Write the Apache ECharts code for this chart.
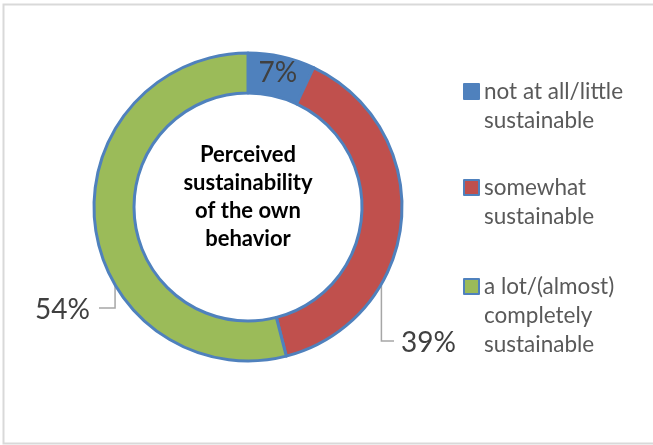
<!DOCTYPE html>
<html>
<head>
<meta charset="utf-8">
<script src="https://cdn.jsdelivr.net/npm/echarts@6/dist/echarts.min.js"></script>
<style>
  html, body { margin: 0; padding: 0; background: #ffffff; }
  #chart { width: 653px; height: 445px; }
</style>
</head>
<body>
<div id="chart"></div>
<script>
// Shares of respondents by how sustainable they rate their own behaviour
const categories = [
  'not at all/little\nsustainable',
  'somewhat\nsustainable',
  'a lot/(almost)\ncompletely\nsustainable'
];
const shares = [7, 39, 54];
const sliceColors = ['#4F81BD', '#C0504D', '#9BBB59'];
const centerTitle = 'Perceived\nsustainability\nof the own\nbehavior';

// Ring geometry (pixels)
const CX = 248, CY = 207, R_IN = 114, R_OUT = 154;
const FONT = 'Lato, "Open Sans", sans-serif';

// Where the outside value labels sit and where their leader lines end
const labelSpots = {
  1: { x: 401, y: 343, align: 'left', lineEnd: 394 },
  2: { x: 90, y: 310, align: 'right', lineEnd: 99 }
};

const pieData = categories.map(function (name, i) {
  const item = { name: name, value: shares[i], itemStyle: { color: sliceColors[i] } };
  if (i === 0) {
    item.label = { position: 'inside' };
    item.labelLine = { show: false };
  }
  return item;
});

// One legend block per category. The marker box is as tall as the text block
// minus the last line, with the visible square drawn at its top, so the square
// sits beside the first text line.
const legendTops = [72, 168, 267];
const LEGEND_LH = 29;
const MARK = 15;
const legends = categories.map(function (name, i) {
  const lines = name.split('\n').length;
  const boxH = MARK + LEGEND_LH * (lines - 1);
  const iconPath = 'path://M0,0H' + MARK + 'V' + MARK + 'H0Z M0,' + boxH + 'L0,' + boxH;
  return {
    data: [{ name: name, icon: iconPath }],
    orient: 'vertical',
    left: 458,
    top: legendTops[i],
    itemWidth: MARK,
    itemHeight: boxH,
    itemGap: 5,
    selectedMode: false,
    itemStyle: { borderColor: '#4F81BD', borderWidth: 2 },
    textStyle: {
      fontFamily: FONT,
      fontSize: 22.5,
      color: '#595959',
      lineHeight: LEGEND_LH
    }
  };
});

const chart = echarts.init(document.getElementById('chart'), null, { renderer: 'canvas' });
chart.setOption({
  animation: false,
  backgroundColor: '#ffffff',
  graphic: [{
    type: 'rect',
    shape: { x: 3.5, y: 4.5, width: 700, height: 439 },
    style: { fill: 'none', stroke: '#D9D9D9', lineWidth: 2 },
    silent: true
  }],
  title: {
    text: centerTitle,
    left: CX,
    top: 141,
    textAlign: 'center',
    padding: 0,
    textStyle: {
      fontFamily: FONT,
      fontWeight: 'bold',
      fontSize: 22,
      lineHeight: 28,
      color: '#000000'
    }
  },
  legend: legends,
  series: [{
    type: 'pie',
    center: [CX, CY],
    radius: [R_IN, R_OUT],
    startAngle: 90,
    clockwise: true,
    avoidLabelOverlap: false,
    silent: true,
    itemStyle: { borderColor: '#4F81BD', borderWidth: 3 },
    label: {
      show: true,
      position: 'outside',
      formatter: '{c}%',
      fontFamily: FONT,
      fontSize: 28,
      color: '#404040'
    },
    labelLine: {
      show: true,
      lineStyle: { color: '#A6A6A6', width: 1.5 }
    },
    labelLayout: function (p) {
      const spot = labelSpots[p.dataIndex];
      if (!spot || !p.labelLinePoints) return {};
      // Start the leader line in the middle of the ring along the slice's mid direction
      const edge = p.labelLinePoints[0];
      const dx = edge[0] - CX, dy = edge[1] - CY;
      const len = Math.sqrt(dx * dx + dy * dy) || 1;
      const rMid = (R_IN + R_OUT) / 2;
      const mx = CX + dx / len * rMid;
      const my = CY + dy / len * rMid;
      return {
        x: spot.x,
        y: spot.y,
        align: spot.align,
        verticalAlign: 'middle',
        labelLinePoints: [[mx, my], [mx, spot.y - 2], [spot.lineEnd, spot.y - 2]]
      };
    },
    data: pieData
  }]
});
</script>
</body>
</html>
